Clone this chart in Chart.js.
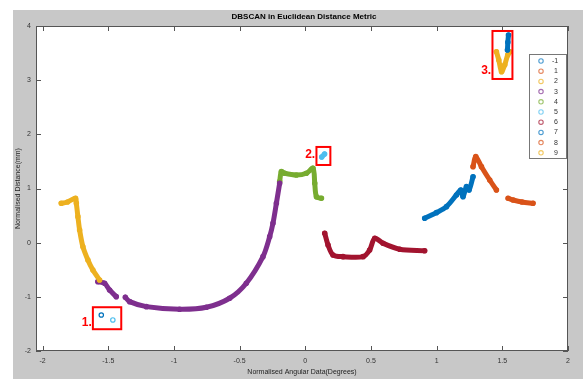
<!DOCTYPE html>
<html>
<head>
<meta charset="utf-8">
<script src="https://cdn.jsdelivr.net/npm/chart.js@4.4.1/dist/chart.umd.min.js"></script>
<style>
html,body{margin:0;padding:0;background:#fff;}
</style>
</head>
<body>
<canvas id="c" width="583" height="379"></canvas>
<script>
// tick labels
let xTicks = [-2,-1.5,-1,-0.5,0,0.5,1,1.5,2];
let yTicks = [-2,-1,0,1,2,3,4];

// clusters [x, y]
let noise = [[1.539,3.557],[1.542,3.70],[1.547,3.834],null,[-1.553,-1.335]];
let cluster1 = [[1.544,0.820],[1.582,0.788],[1.65,0.75],[1.734,0.727]];
let cluster2 = [[-1.858,0.727],[-1.810,0.751],[-1.749,0.820],[-1.743,0.727],[-1.731,0.480],[-1.718,0.234],[-1.693,-0.074],[-1.655,-0.319],[-1.617,-0.504],[-1.566,-0.689]];
let cluster3 = [[-1.579,-0.720],[-1.528,-0.750],[-1.490,-0.873],[-1.439,-0.997],null,
  [-1.370,-1.008],[-1.337,-1.089],[-1.210,-1.181],[-0.957,-1.229],[-0.753,-1.193],[-0.576,-1.026],
  [-0.449,-0.749],[-0.322,-0.258],[-0.271,0.111],[-0.246,0.358],[-0.220,0.727],[-0.195,1.097]];
let cluster4 = [[-0.195,1.128],[-0.182,1.311],[-0.157,1.281],[-0.068,1.250],[0.008,1.281],[0.059,1.373],[0.072,1.097],[0.085,0.849],[0.123,0.820]];
let cluster5 = [[0.125,1.582],[0.147,1.637],null,[-1.465,-1.427]];
let cluster6 = [[0.148,0.174],[0.173,-0.042],[0.211,-0.227],[0.287,-0.258],[0.440,-0.258],[0.490,-0.135],[0.529,0.081],[0.592,-0.011],[0.719,-0.122],[0.909,-0.148]];
let cluster7 = [[0.909,0.450],[0.998,0.554],[1.075,0.665],[1.151,0.881],[1.184,0.973],[1.201,0.849],[1.227,1.034],[1.247,0.973],[1.277,1.218]];
let cluster8 = [[1.277,1.403],[1.298,1.588],[1.341,1.403],[1.404,1.157],[1.455,0.973]];
let cluster9 = [[1.455,3.526],[1.473,3.373],[1.494,3.157],[1.519,3.286],[1.541,3.465],[1.557,3.526]];

let labels = ["-1","1","2","3","4","5","6","7","8","9"];
let colors = ["#0072BD","#D95319","#EDB120","#7E2F8E","#77AC30","#4DBEEE","#A2142F","#0072BD","#D95319","#EDB120"];
let clusters = [noise,cluster1,cluster2,cluster3,cluster4,cluster5,cluster6,cluster7,cluster8,cluster9];

// red marked regions [x1, y1, x2, y2] and their labels
let boxes = [[-1.617,-1.192,-1.401,-1.598],[0.085,1.767,0.191,1.434],[1.425,3.908,1.577,3.022]];
let boxTexts = [["1.",-1.625,-1.47],["2.",0.075,1.63],["3.",1.415,3.17]];

function toPts(arr){
  return arr.map(p => p ? {x:p[0], y:p[1]} : {x:null, y:null});
}

let datasets = clusters.map((c,i)=>({
  label: labels[i],
  data: toPts(c),
  showLine: true,
  spanGaps: false,
  borderColor: colors[i],
  backgroundColor: "rgba(0,0,0,0)",
  borderWidth: 5,
  borderCapStyle: "round",
  borderJoinStyle: "round",
  tension: 0.3,
  pointRadius: 2.2,
  pointBorderWidth: 1.2,
  pointBorderColor: colors[i],
  pointBackgroundColor: "rgba(0,0,0,0)"
}));

const deco = {
  id: "deco",
  beforeDraw(chart){
    let ctx = chart.ctx, a = chart.chartArea;
    ctx.save();
    ctx.fillStyle = "#fff";
    ctx.fillRect(0,0,chart.width,chart.height);
    ctx.fillStyle = "#c8c8c8";
    ctx.fillRect(13,10,chart.width-13,chart.height-10);
    ctx.fillStyle = "#fff";
    ctx.fillRect(a.left,a.top,a.right-a.left,a.bottom-a.top);
    ctx.restore();
  },
  afterDraw(chart){
    let ctx = chart.ctx, a = chart.chartArea;
    let xs = chart.scales.x, ys = chart.scales.y;
    ctx.save();
    // box + inward ticks
    ctx.strokeStyle = "#555";
    ctx.lineWidth = 1;
    ctx.strokeRect(a.left+0.5,a.top+0.5,a.right-a.left-1,a.bottom-a.top-1);
    ctx.beginPath();
    xTicks.forEach(v=>{
      let px = Math.round(xs.getPixelForValue(v))+0.5;
      ctx.moveTo(px,a.bottom); ctx.lineTo(px,a.bottom-5);
      ctx.moveTo(px,a.top); ctx.lineTo(px,a.top+5);
    });
    yTicks.forEach(v=>{
      let py = Math.round(ys.getPixelForValue(v))+0.5;
      ctx.moveTo(a.left,py); ctx.lineTo(a.left+5,py);
      ctx.moveTo(a.right,py); ctx.lineTo(a.right-5,py);
    });
    ctx.stroke();

    // red boxes
    ctx.strokeStyle = "#ff0000";
    ctx.lineWidth = 2;
    boxes.forEach(b=>{
      let x1 = xs.getPixelForValue(b[0]), y1 = ys.getPixelForValue(b[1]);
      let x2 = xs.getPixelForValue(b[2]), y2 = ys.getPixelForValue(b[3]);
      ctx.strokeRect(x1,y1,x2-x1,y2-y1);
    });
    ctx.fillStyle = "#ff0000";
    ctx.font = "bold 12px 'Liberation Sans', Arial, sans-serif";
    ctx.textAlign = "right";
    ctx.textBaseline = "middle";
    boxTexts.forEach(t=>{
      ctx.fillText(t[0], xs.getPixelForValue(t[1]), ys.getPixelForValue(t[2]));
    });

    // title
    ctx.fillStyle = "#000";
    ctx.font = "bold 8px 'Liberation Sans', Arial, sans-serif";
    ctx.textAlign = "center";
    ctx.fillText("DBSCAN in Euclidean Distance Metric", (a.left+a.right)/2+2, 17);

    // legend inside plot
    let lx = 529, ly = 54, lw = 37, lh = 104;
    ctx.fillStyle = "#fff";
    ctx.fillRect(lx,ly,lw,lh);
    ctx.strokeStyle = "#777";
    ctx.lineWidth = 1;
    ctx.strokeRect(lx+0.5,ly+0.5,lw,lh);
    ctx.font = "7px 'Liberation Sans', Arial, sans-serif";
    ctx.textAlign = "left";
    chart.data.datasets.forEach((d,i)=>{
      let yy = ly + 7 + i*10.2;
      ctx.strokeStyle = d.borderColor;
      ctx.globalAlpha = 0.7;
      ctx.lineWidth = 1.1;
      ctx.beginPath();
      ctx.arc(lx+12, yy, 2.2, 0, Math.PI*2);
      ctx.stroke();
      ctx.globalAlpha = 1;
      ctx.fillStyle = "#333";
      ctx.fillText(d.label, lx + (d.label.length>1 ? 23 : 25), yy);
    });
    ctx.restore();
  }
};

new Chart(document.getElementById("c"), {
  type: "scatter",
  data: {datasets: datasets},
  plugins: [deco],
  options: {
    responsive: false,
    animation: false,
    devicePixelRatio: 1,
    layout: {padding: {left:13, top:26, right:15, bottom:0}},
    plugins: {legend:{display:false}, tooltip:{enabled:false}, title:{display:false}},
    scales: {
      x: {
        type: "linear", min: -2.05, max: 2,
        grid: {display:false, drawTicks:false, tickLength:0}, border: {display:false},
        afterBuildTicks: s => { s.ticks = xTicks.map(v=>({value:v})); },
        afterFit: s => { s.height = 28; },
        ticks: {color:"#333", font:{size:7, family:"'Liberation Sans', Arial"}, padding:6, maxRotation:0,
          callback: v => String(v)},
        title: {display:true, text:"Normalised Angular Data(Degrees)", color:"#222",
          font:{size:7, family:"'Liberation Sans', Arial"}, padding:{top:0, bottom:3}}
      },
      y: {
        type: "linear", min: -2, max: 4,
        grid: {display:false, drawTicks:false, tickLength:0}, border: {display:false},
        afterBuildTicks: s => { s.ticks = yTicks.map(v=>({value:v})); },
        afterFit: s => { s.width = 23; },
        ticks: {color:"#333", font:{size:7, family:"'Liberation Sans', Arial"}, padding:5,
          callback: v => String(v)},
        title: {display:true, text:"Normalised Distance(mm)", color:"#222",
          font:{size:7, family:"'Liberation Sans', Arial"}, padding:{top:1, bottom:0}}
      }
    }
  }
});
</script>
</body>
</html>
